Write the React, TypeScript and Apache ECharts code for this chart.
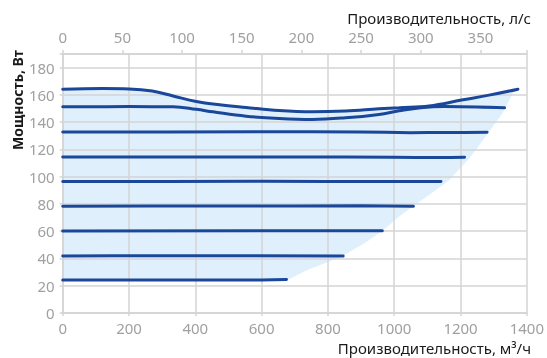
import React, { useEffect, useRef } from "react";
import * as echarts from "echarts";

// Bottom axis: м³/ч, top axis: л/с (1 л/с = 3.6 м³/ч)
const xTicksM3h = [0, 200, 400, 600, 800, 1000, 1200, 1400];
const yTicks = [0, 20, 40, 60, 80, 100, 120, 140, 160, 180];
const topTicksLs = [0, 50, 100, 150, 200, 250, 300, 350];

// Power curves [м³/ч, Вт]
const curve164: number[][] = [
  [0, 164.2], [120, 164.7], [200, 164.4], [270, 162.8], [333, 159.2], [403, 155.2],
  [473, 152.8], [553, 150.8], [653, 148.5], [753, 147.6], [853, 148.2], [954, 149.8],
  [1015, 150.6], [1105, 151.9], [1203, 156.2], [1290, 160.0], [1373, 164.2],
];
const curve151: number[][] = [
  [0, 151.3], [200, 151.4], [333, 151.3], [403, 149.4], [453, 147.6], [553, 144.4],
  [653, 142.7], [753, 142.0], [853, 143.2], [954, 145.7], [1015, 148.3], [1080, 150.5],
  [1150, 151.4], [1250, 151.2], [1333, 150.6],
];
const curve132: number[][] = [[0, 132.8], [600, 132.9], [900, 132.8], [1050, 132.3], [1150, 132.4], [1280, 132.6]];
const curve114: number[][] = [[0, 114.5], [700, 114.4], [1000, 114.3], [1130, 114.0], [1212, 114.3]];
const curve96: number[][] = [[0, 96.4], [600, 96.6], [1000, 96.4], [1141, 96.5]];
const curve78: number[][] = [[0, 78.4], [500, 78.5], [900, 78.6], [1058, 78.3]];
const curve60: number[][] = [[0, 60.2], [964, 60.3]];
const curve42: number[][] = [[0, 41.8], [300, 42.0], [846, 41.8]];
const curve24: number[][] = [[0, 24.3], [600, 24.3], [675, 24.5]];

// Right edge of the working area (from bottom to top)
const workEdge: number[][] = [
  [678, 24.3], [738, 31.5], [800, 37.5], [844, 41.8], [909, 51], [964, 60.2],
  [1014, 70.6], [1058, 78.5], [1110, 87.5], [1164, 97], [1230, 114.5],
  [1285, 132.6], [1325, 146], [1362, 162.8],
];

const curves = [curve164, curve151, curve132, curve114, curve96, curve78, curve60, curve42, curve24];

const fillPolygon: number[][] = [
  ...curve164.filter((p) => p[0] <= 1290),
  ...workEdge.slice().reverse(),
  [0, 24.3],
];

const LINE = "#1a479a";
const FILL = "#dff0fc";
const GRID = "#d4d4d4";
const LABEL = "#a0a0a0";
const FONT = "'Noto Sans', sans-serif";

export default function App() {
  const ref = useRef<HTMLDivElement>(null);
  useEffect(() => {
    const chart = echarts.init(ref.current!, null, { renderer: "svg" });
    const option: any = {
      animation: false,
      grid: { left: 62.7, right: 18.7, top: 54, bottom: 45, containLabel: false },
      xAxis: [
        {
          type: "value",
          position: "bottom",
          min: xTicksM3h[0],
          max: xTicksM3h[xTicksM3h.length - 1],
          interval: 200,
          z: 1,
          axisLine: { show: true, lineStyle: { color: GRID, width: 1.5 } },
          axisTick: { show: true, length: 3, lineStyle: { color: GRID, width: 1.5 } },
          axisLabel: {
            color: LABEL,
            fontSize: 15,
            fontFamily: FONT,
            margin: 7,
            formatter: (v: number) => (xTicksM3h.includes(v) ? String(v) : ""),
          },
          splitLine: { show: true, lineStyle: { color: GRID, width: 1.5 } },
        },
        {
          type: "value",
          position: "top",
          min: 0,
          max: 1400 / 3.6,
          interval: 50,
          z: 1,
          axisLine: { show: true, lineStyle: { color: GRID, width: 1.5 } },
          axisTick: { show: true, length: 4, lineStyle: { color: GRID, width: 1.5 } },
          axisLabel: {
            color: LABEL,
            fontSize: 15,
            fontFamily: FONT,
            margin: 10,
            formatter: (v: number) => (topTicksLs.includes(v) ? String(v) : ""),
          },
          splitLine: { show: false },
        },
      ],
      yAxis: {
        type: "value",
        min: 0,
        max: 190,
        interval: 20,
        z: 1,
        axisLine: { show: true, lineStyle: { color: GRID, width: 1.5 } },
        axisTick: { show: true, length: 3, lineStyle: { color: GRID, width: 1.5 } },
        axisLabel: {
          color: LABEL,
          fontSize: 15,
          fontFamily: FONT,
          margin: 8,
          formatter: (v: number) => (yTicks.includes(v) ? String(v) : ""),
        },
        splitLine: { show: true, lineStyle: { color: GRID, width: 1.5 } },
      },
      graphic: [
        {
          type: "text",
          x: 531,
          y: 17.5,
          style: { text: "Производительность, л/с", fill: "#1a1a1a", fontSize: 15, fontFamily: FONT, align: "right", verticalAlign: "middle" },
        },
        {
          type: "text",
          x: 531,
          y: 348,
          style: { text: "Производительность, м³/ч", fill: "#1a1a1a", fontSize: 15, fontFamily: FONT, align: "right", verticalAlign: "middle" },
        },
        {
          type: "text",
          x: 17,
          y: 100,
          rotation: Math.PI / 2,
          style: { text: "Мощность, Вт", fill: "#1a1a1a", fontSize: 14, fontWeight: "bold", fontFamily: FONT, align: "center", verticalAlign: "middle" },
        },
      ],
      series: [
        {
          type: "custom",
          coordinateSystem: "cartesian2d",
          xAxisIndex: 0,
          yAxisIndex: 0,
          z: 0,
          silent: true,
          data: fillPolygon,
          renderItem: (params: any, api: any) => {
            if (params.dataIndex !== 0) return null;
            const pts = fillPolygon.map((p) => api.coord(p));
            return { type: "polygon", shape: { points: pts }, style: { fill: FILL, stroke: "none" } };
          },
        },
        ...curves.map((c, i) => ({
          type: "line",
          xAxisIndex: 0,
          yAxisIndex: 0,
          data: c,
          z: 3,
          smooth: i < 2 ? 0.4 : 0.2,
          showSymbol: false,
          symbol: "none",
          silent: true,
          lineStyle: { color: LINE, width: 3, cap: "round" },
        })),
      ],
    };
    chart.setOption(option);
    return () => chart.dispose();
  }, []);
  return <div ref={ref} style={{ position: "fixed", left: 0, top: 0, width: 547, height: 358 }} />;
}
